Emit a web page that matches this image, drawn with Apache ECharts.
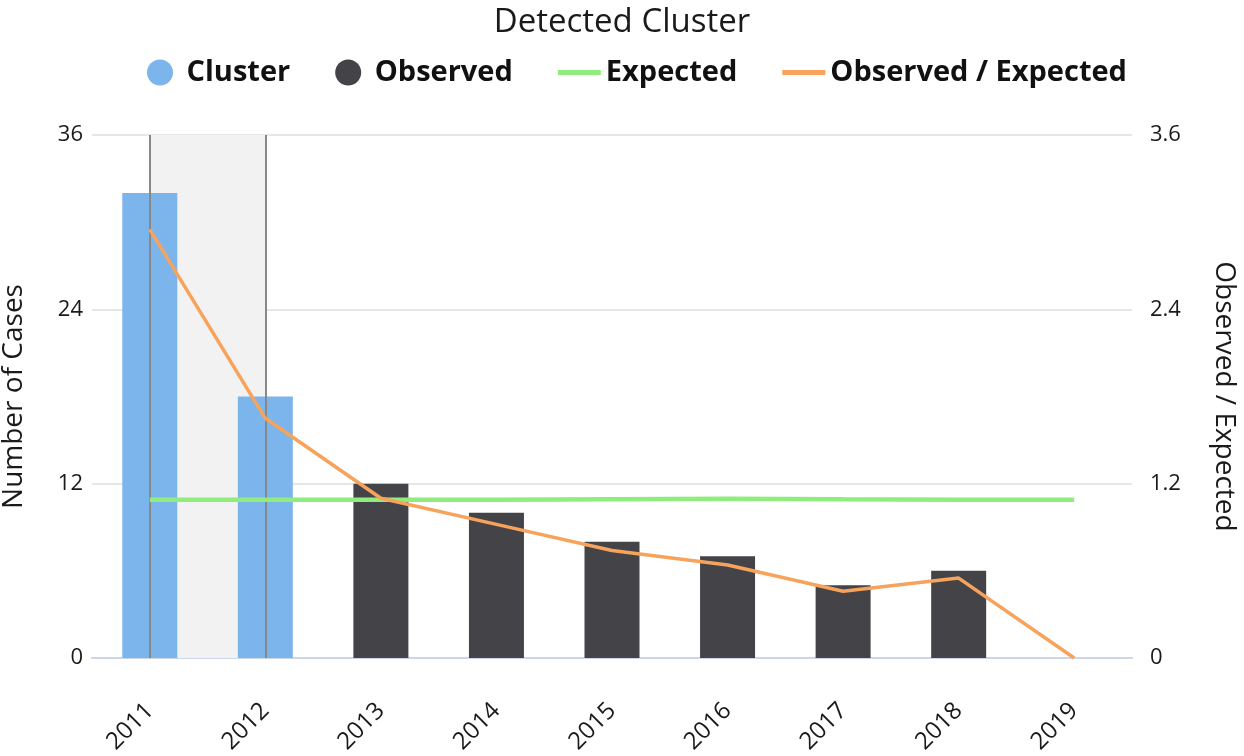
<!DOCTYPE html>
<html>
<head>
<meta charset="utf-8">
<script src="https://cdn.jsdelivr.net/npm/echarts@6/dist/echarts.min.js"></script>
<style>html,body{margin:0;padding:0;background:#fff}#c{width:1244px;height:756px}</style>
</head>
<body>
<div id="c"></div>
<script>
var years = ['2011','2012','2013','2014','2015','2016','2017','2018','2019'];
var clusterCases = [32, 18, null, null, null, null, null, null, null];
var observedCases = [null, null, 12, 10, 8, 7, 5, 6, 0];
var expectedCases = [10.9, 10.9, 10.9, 10.9, 10.93, 10.97, 10.93, 10.9, 10.9];
var obsExpRatio = [2.95, 1.65, 1.1, 0.92, 0.74, 0.64, 0.46, 0.55, 0];
var leftTicks = [0, 36, 12];
var rightTicks = [0, 3.6, 1.2];

var FONT = '"Open Sans", "DejaVu Sans", sans-serif';
var LINE_ICON = 'path://M0,0 L43,0 L43,5 L0,5 Z';
var chart = echarts.init(document.getElementById('c'));
chart.setOption({
  animation: false,
  textStyle: {fontFamily: FONT},
  title: {
    text: 'Detected Cluster', left: 'center', top: 6, padding: 0,
    textStyle: {fontFamily: FONT, fontSize: 33, fontWeight: 'normal', color: '#1a1a1a'}
  },
  legend: {
    top: 58, left: 147, padding: 0, itemGap: 45, itemWidth: 43, itemHeight: 26,
    symbolKeepAspect: true,
    textStyle: {fontFamily: FONT, fontSize: 29, fontWeight: 'bold', color: '#111'},
    data: [
      {name: 'Cluster', icon: 'circle'},
      {name: 'Observed', icon: 'circle'},
      {name: 'Expected', icon: LINE_ICON, itemStyle: {color: '#90ed7d'}},
      {name: 'Observed / Expected', icon: LINE_ICON, itemStyle: {color: '#f7a35c'}}
    ]
  },
  grid: {left: 92, right: 112, top: 135, bottom: 98, containLabel: false, outerBoundsMode: 'none'},
  xAxis: {
    type: 'category', data: years, boundaryGap: true,
    axisLine: {lineStyle: {color: '#ccd6eb', width: 2}},
    axisTick: {alignWithLabel: true, length: 23, lineStyle: {color: '#c0c8d8', width: 2}},
    axisLabel: {rotate: 45, fontSize: 24, color: '#1a1a1a', margin: 49, fontFamily: FONT}
  },
  yAxis: [{
    type: 'value', min: leftTicks[0], max: leftTicks[1], interval: leftTicks[2],
    name: 'Number of Cases', nameLocation: 'middle', nameGap: 64,
    nameTextStyle: {fontSize: 28, color: '#1a1a1a', fontFamily: FONT},
    axisLabel: {fontSize: 22, color: '#1a1a1a', margin: 9, fontFamily: FONT},
    splitLine: {lineStyle: {color: '#e6e6e6', width: 2}},
    axisLine: {show: false}, axisTick: {show: false}
  }, {
    type: 'value', min: rightTicks[0], max: rightTicks[1], interval: rightTicks[2],
    name: 'Observed / Expected', nameLocation: 'middle', nameGap: 78, nameRotate: -90,
    nameTextStyle: {fontSize: 28, color: '#1a1a1a', fontFamily: FONT},
    axisLabel: {fontSize: 22, color: '#1a1a1a', margin: 18, fontFamily: FONT},
    splitLine: {show: false}, axisLine: {show: false}, axisTick: {show: false}
  }],
  series: [{
    name: 'Cluster', type: 'bar', stack: 'cases', barWidth: 55, data: clusterCases,
    itemStyle: {color: '#7cb5ec'},
    markArea: {
      silent: true, itemStyle: {color: '#f2f2f2'},
      data: [[{xAxis: years[0]}, {xAxis: years[1]}]]
    },
    markLine: {
      silent: true, symbol: 'none', label: {show: false},
      lineStyle: {color: '#888', width: 2, type: 'solid'},
      data: [{xAxis: years[0]}, {xAxis: years[1]}]
    }
  }, {
    name: 'Observed', type: 'bar', stack: 'cases', barWidth: 55, data: observedCases,
    itemStyle: {color: '#434348'}
  }, {
    name: 'Expected', type: 'line', yAxisIndex: 0, data: expectedCases,
    symbol: 'none', lineStyle: {color: '#90ed7d', width: 4.5}, itemStyle: {color: '#90ed7d'}, z: 5
  }, {
    name: 'Observed / Expected', type: 'line', yAxisIndex: 1, data: obsExpRatio,
    symbol: 'none', lineStyle: {color: '#f7a35c', width: 3.5}, itemStyle: {color: '#f7a35c'}, z: 6
  }]
});
</script>
</body>
</html>
